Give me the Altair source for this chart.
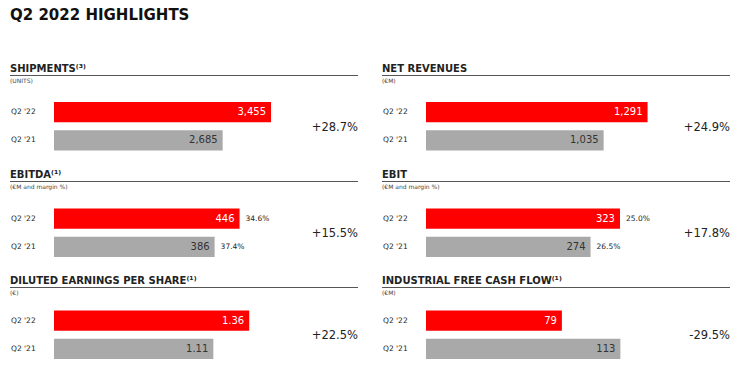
import altair as alt
import pandas as pd

# ---- data ----
titles = ["SHIPMENTS⁽³⁾", "NET REVENUES", "EBITDA⁽¹⁾", "EBIT",
          "DILUTED EARNINGS PER SHARE⁽¹⁾", "INDUSTRIAL FREE CASH FLOW⁽¹⁾"]
units = ["(UNITS)", "(€M)", "(€M and margin %)", "(€M and margin %)", "(€)", "(€M)"]
periods = ["Q2 '22", "Q2 '21"]
q2_22 = [3455, 1291, 446, 323, 1.36, 79]
q2_21 = [2685, 1035, 386, 274, 1.11, 113]
labels_22 = ["3,455", "1,291", "446", "323", "1.36", "79"]
labels_21 = ["2,685", "1,035", "386", "274", "1.11", "113"]
margin_22 = ["", "", "34.6%", "25.0%", "", ""]
margin_21 = ["", "", "37.4%", "26.5%", "", ""]
change = ["+28.7%", "+24.9%", "+15.5%", "+17.8%", "+22.5%", "-29.5%"]
scale_max = [4776, 1748, 721, 499.5, 2.09, 174.4]
main_title = "Q2 2022 HIGHLIGHTS"

# ---- style ----
FONT = "DejaVu Sans"
RED = "#FF0000"
GRAY = "#A9A9A9"
DARK = "#222222"
W = 351
heights = [148, 106, 106]
row_off = [42, 0, 0]
bar_top = [51, 51.5, 47.5]


def one(text):
    return alt.Chart(pd.DataFrame({"t": [text]}))


def panel(i, row):
    off = row_off[row]
    top = off + bar_top[row]
    df = pd.DataFrame({
        "period": periods,
        "value": [q2_22[i], q2_21[i]],
        "label": [labels_22[i], labels_21[i]],
        "margin": [margin_22[i], margin_21[i]],
        "bar_color": [RED, GRAY],
        "text_color": ["#FFFFFF", "#333333"],
    })
    xs = alt.Scale(domain=[0, scale_max[i]], range=[46, 346], nice=False, zero=True)
    ys = alt.Scale(domain=periods, range=[top, top + 48.6], paddingInner=0.286, paddingOuter=0)
    base = alt.Chart(df).encode(y=alt.Y("period:N", scale=ys, axis=None))
    X = alt.X("value:Q", scale=xs, axis=None)
    bars = base.mark_bar().encode(x=X, color=alt.Color("bar_color:N", scale=None))
    vals = base.mark_text(align="right", baseline="middle", dx=-5, fontSize=10, font=FONT).encode(
        x=X, text="label:N", color=alt.Color("text_color:N", scale=None))
    margins = base.mark_text(align="left", baseline="middle", dx=6, fontSize=7.5, font=FONT,
                             color=DARK).encode(x=X, text="margin:N")
    cats = base.mark_text(align="left", baseline="middle", fontSize=7.5, font=FONT,
                          color=DARK).encode(x=alt.value(3), text="period:N")
    header = one(titles[i]).mark_text(align="left", baseline="alphabetic", fontSize=10,
                                      fontWeight="bold", font=FONT, color=DARK).encode(
        x=alt.value(2), y=alt.value(off + 21), text="t:N")
    rule = one("r").mark_rule(color="#555555", strokeWidth=1).encode(
        x=alt.value(2), x2=alt.value(350), y=alt.value(off + 24.5))
    sub = one(units[i]).mark_text(align="left", baseline="middle", fontSize=6, font=FONT,
                                  color="#444444").encode(
        x=alt.value(2), y=alt.value(off + 30), text="t:N")
    chg = one(change[i]).mark_text(align="right", baseline="middle", fontSize=11.5, font=FONT,
                                   color=DARK).encode(
        x=alt.value(350), y=alt.value(top + 25.5), text="t:N")
    layers = [bars, vals, margins, cats, header, rule, sub, chg]
    if i == 0:
        layers.append(one(main_title).mark_text(align="left", baseline="alphabetic", fontSize=15,
                                                fontWeight="bold", font=FONT, color="#111111").encode(
            x=alt.value(2), y=alt.value(11), text="t:N"))
    return alt.layer(*layers).properties(width=W, height=heights[row])


panels = [panel(i, i // 2) for i in range(6)]

chart = alt.concat(*panels, columns=2, spacing={"row": 0, "column": 21}, bounds="flush").properties(
    padding=0, background="white"
).configure_view(stroke=None)

chart.save("out.html", embed_options={"renderer": "svg", "actions": False})
